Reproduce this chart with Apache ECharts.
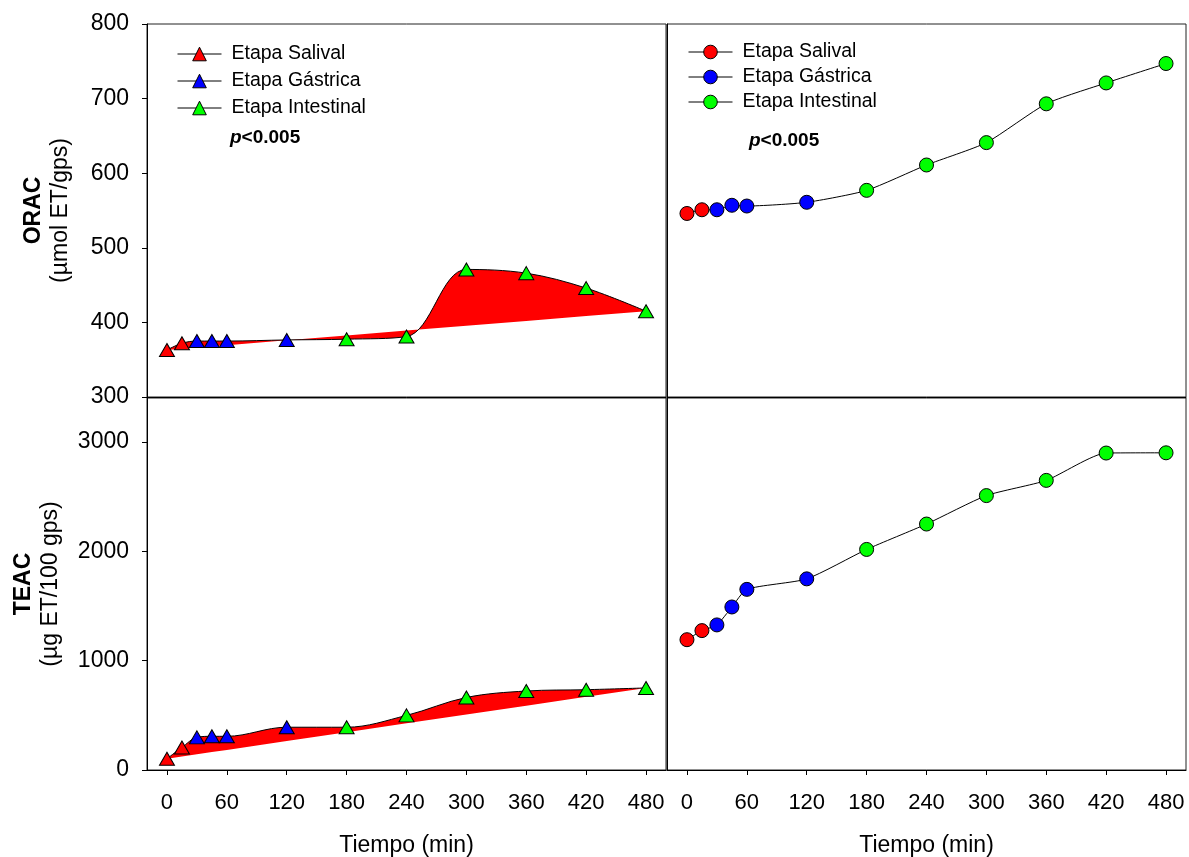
<!DOCTYPE html>
<html lang="es">
<head>
<meta charset="UTF-8">
<title>ORAC y TEAC durante la digestion</title>
<script src="https://cdn.jsdelivr.net/npm/echarts@6/dist/echarts.min.js"></script>
<style>
  html, body { margin: 0; background: #fff; }
  #main { width: 1189px; height: 857px; }
</style>
</head>
<body>
<div id="main"></div>
<script>
  // tiempos de muestreo (min) y marcas del eje x
  var tiempos = [0, 15, 30, 45, 60, 120, 180, 240, 300, 360, 420, 480];
  var marcasTiempo = [0, 60, 120, 180, 240, 300, 360, 420, 480];
  var marcasTeac = [0, 1000, 2000, 3000];

  var etapas = ['Etapa Salival', 'Etapa Gástrica', 'Etapa Intestinal'];
  var inicioEtapa = [0, 2, 6];   // indice del primer tiempo de cada etapa

  // paneles de la izquierda (triangulos)
  var oracTri = [363, 372, 375, 375, 375, 376.5, 377.5, 381, 471, 466, 446, 415];
  var teacTri = [103, 206, 298, 308, 308, 391, 391, 499, 663, 722, 734, 750];
  // paneles de la derecha (circulos)
  var oracCirc = [546, 551, 551, 557, 556, 561, 577, 611, 641, 693, 721, 747];
  var teacCirc = [1191, 1274, 1326, 1490, 1651, 1747, 2016, 2248, 2508, 2647, 2897, 2899];

  var FUENTE = 'Liberation Sans, Arial, Helvetica, sans-serif';
  var colores = ['#ff0000', '#0000ff', '#00ff00'];
  var SUFIJO = ' (der)';

  function puntos(vals, desde, hasta) {
    var out = [];
    for (var i = desde; i < hasta; i++) out.push([tiempos[i], vals[i]]);
    return out;
  }

  // una serie por etapa, solo simbolos
  function seriesEtapas(vals, idx, simbolo, tam, sufijo) {
    return etapas.map(function (nombre, k) {
      var hasta = k + 1 < inicioEtapa.length ? inicioEtapa[k + 1] : tiempos.length;
      return {
        type: 'line',
        name: nombre + sufijo,
        xAxisIndex: idx,
        yAxisIndex: idx,
        data: puntos(vals, inicioEtapa[k], hasta),
        symbol: simbolo,
        symbolSize: tam,
        showSymbol: true,
        lineStyle: { width: 0, color: '#000' },
        itemStyle: { color: colores[k], borderColor: '#000', borderWidth: 1 },
        z: 6,
        silent: true
      };
    });
  }

  // curva suavizada rellena contra la recta entre el primer y el ultimo punto
  function seriesArea(vals, idx, pila) {
    var n = vals.length - 1;
    var base = tiempos.map(function (t) {
      return vals[0] + (vals[n] - vals[0]) * (t - tiempos[0]) / (tiempos[n] - tiempos[0]);
    });
    // datos como [valor, tiempo] para que la pila sea sobre el eje y
    return [{
      type: 'line', xAxisIndex: idx, yAxisIndex: idx,
      stack: pila, stackStrategy: 'all',
      encode: { x: 1, y: 0 },
      data: tiempos.map(function (t, i) { return [base[i], t]; }),
      symbol: 'none', lineStyle: { width: 0 }, silent: true, z: 2
    }, {
      type: 'line', xAxisIndex: idx, yAxisIndex: idx,
      stack: pila, stackStrategy: 'all',
      encode: { x: 1, y: 0 },
      data: tiempos.map(function (t, i) { return [vals[i] - base[i], t]; }),
      smooth: 0.35,
      symbol: 'none',
      lineStyle: { color: '#000', width: 1 },
      areaStyle: { color: '#ff0000', opacity: 1 },
      silent: true, z: 3
    }];
  }

  function lineaConectora(vals, idx) {
    return {
      type: 'line', xAxisIndex: idx, yAxisIndex: idx,
      data: puntos(vals, 0, vals.length),
      smooth: 0.2, symbol: 'none',
      lineStyle: { color: '#000', width: 1 },
      silent: true, z: 2
    };
  }

  function ejeX(idx, conEtiquetas) {
    var eje = {
      gridIndex: idx, type: 'value', min: -20, max: 500,
      axisLine: { show: true, onZero: false, lineStyle: { color: '#000', width: 1 } },
      axisTick: { show: conEtiquetas, length: 5, customValues: marcasTiempo, lineStyle: { color: '#000' } },
      axisLabel: { show: conEtiquetas, customValues: marcasTiempo, fontSize: 22, color: '#000', fontFamily: FUENTE, margin: 22 },
      splitLine: { show: false }
    };
    if (conEtiquetas) {
      eje.name = 'Tiempo (min)';
      eje.nameLocation = 'middle';
      eje.nameGap = 64;
      eje.nameTextStyle = { fontSize: 23, color: '#000', fontFamily: FUENTE };
    }
    return eje;
  }

  var ricoY = {
    t: { fontSize: 23, fontWeight: 'bold', color: '#000', fontFamily: FUENTE, lineHeight: 27 },
    u: { fontSize: 23, color: '#000', fontFamily: FUENTE, lineHeight: 27 }
  };

  function leyenda(izq, arriba, sufijo, hueco) {
    return {
      orient: 'vertical', left: izq, top: arriba, padding: 0,
      itemWidth: 44, itemHeight: 17, itemGap: hueco,
      selectedMode: false,
      data: etapas.map(function (n, k) {
        return { name: n + sufijo, itemStyle: { color: colores[k], borderColor: '#000', borderWidth: 1, opacity: 1 } };
      }),
      formatter: function (n) { return n.replace(SUFIJO, ''); },
      lineStyle: { color: '#000', width: 1, opacity: 1 },
      textStyle: { fontSize: 19.5, color: '#000', fontFamily: FUENTE, padding: [0, 0, 0, 5] }
    };
  }

  function textoP(izq, arriba) {
    return {
      type: 'text', left: izq, top: arriba, silent: true,
      style: {
        text: '{i|p}{b|<0.005}',
        rich: {
          i: { fontSize: 19, fontWeight: 'bold', fontStyle: 'italic', fontFamily: FUENTE, fill: '#000' },
          b: { fontSize: 19, fontWeight: 'bold', fontFamily: FUENTE, fill: '#000' }
        },
        fontSize: 19, fontWeight: 'bold', fontFamily: FUENTE, fill: '#000'
      }
    };
  }

  var marco = { show: true, borderColor: '#222', borderWidth: 1, outerBoundsMode: 'none', containLabel: false };

  var option = {
    animation: false,
    backgroundColor: '#fff',
    textStyle: { fontFamily: FUENTE },
    grid: [
      Object.assign({ left: 147, top: 24, width: 519, height: 373 }, marco),
      Object.assign({ left: 667, top: 24, width: 519, height: 373 }, marco),
      Object.assign({ left: 147, top: 398, width: 519, height: 372 }, marco),
      Object.assign({ left: 667, top: 398, width: 519, height: 372 }, marco)
    ],
    xAxis: [ejeX(0, false), ejeX(1, false), ejeX(2, true), ejeX(3, true)],
    yAxis: [{
      gridIndex: 0, type: 'value', min: 300, max: 800, interval: 100,
      axisLine: { show: true, onZero: false, lineStyle: { color: '#000' } },
      axisTick: { show: true, length: 5, lineStyle: { color: '#000' } },
      axisLabel: { fontSize: 23, color: '#000', fontFamily: FUENTE, margin: 18 },
      splitLine: { show: false },
      name: '{t|ORAC}\n{u|(µmol ET/gps)}', nameLocation: 'middle', nameRotate: 90, nameGap: 73,
      nameTextStyle: { rich: ricoY }
    }, {
      gridIndex: 1, type: 'value', min: 300, max: 800, interval: 100,
      axisLine: { show: true, onZero: false, lineStyle: { color: '#000' } },
      axisTick: { show: false }, axisLabel: { show: false }, splitLine: { show: false }
    }, {
      gridIndex: 2, type: 'value', min: 0, max: 3400,
      axisLine: { show: true, onZero: false, lineStyle: { color: '#000' } },
      axisTick: { show: true, length: 5, customValues: marcasTeac, lineStyle: { color: '#000' } },
      axisLabel: {
        customValues: marcasTeac, fontSize: 23, color: '#000', fontFamily: FUENTE, margin: 18,
        formatter: function (v) { return String(v); }
      },
      splitLine: { show: false },
      name: '{t|TEAC}\n{u|(µg ET/100 gps)}', nameLocation: 'middle', nameRotate: 90, nameGap: 83,
      nameTextStyle: { rich: ricoY }
    }, {
      gridIndex: 3, type: 'value', min: 0, max: 3400,
      axisLine: { show: true, onZero: false, lineStyle: { color: '#000' } },
      axisTick: { show: false }, axisLabel: { show: false }, splitLine: { show: false }
    }],
    legend: [leyenda(177, 44, '', 7), leyenda(688, 42, SUFIJO, 5)],
    graphic: [textoP(230, 128), textoP(749, 131)],
    series: [].concat(
      seriesEtapas(oracTri, 0, 'triangle', [15, 13], ''),
      seriesEtapas(oracCirc, 1, 'circle', 14, SUFIJO),
      seriesEtapas(teacTri, 2, 'triangle', [15, 13], ''),
      seriesEtapas(teacCirc, 3, 'circle', 14, SUFIJO),
      seriesArea(oracTri, 0, 'orac'),
      seriesArea(teacTri, 2, 'teac'),
      lineaConectora(oracCirc, 1),
      lineaConectora(teacCirc, 3)
    )
  };

  var chart = echarts.init(document.getElementById('main'));
  chart.setOption(option);
</script>
</body>
</html>
